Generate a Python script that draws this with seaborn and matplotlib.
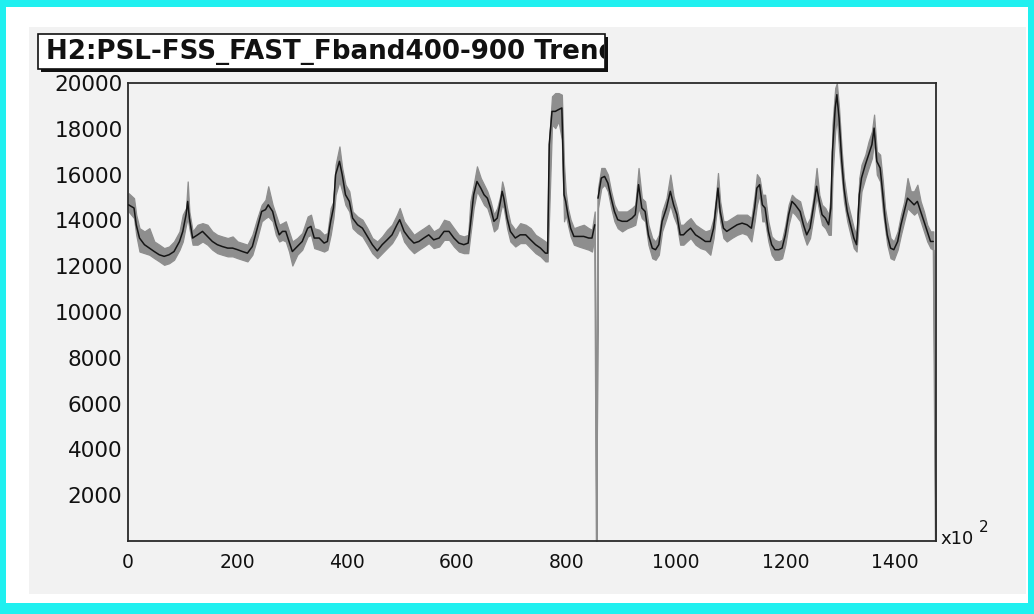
import numpy as np
import pandas as pd
import matplotlib
matplotlib.use("Agg")
import matplotlib.pyplot as plt
import seaborn as sns
from matplotlib.patches import Rectangle
from matplotlib.transforms import Bbox, TransformedBbox
from matplotlib.ticker import MultipleLocator, FixedLocator

# ---------------- data ----------------
TITLE = "H2:PSL-FSS_FAST_Fband400-900 Trend"
X_MULT = "x10"
X_MULT_EXP = "2"
x_ticks = [0, 200, 400, 600, 800, 1000, 1200, 1400]
y_ticks = [2000, 4000, 6000, 8000, 10000, 12000, 14000, 16000, 18000, 20000]

t = [1, 11, 15, 21, 30, 39, 48, 57, 66, 75, 84, 94, 100, 106, 109, 112, 118, 127, 136, 145,
     154, 163, 172, 182, 191, 200, 209, 218, 227, 236, 244,
     251, 256, 264, 270, 276, 282, 288, 294, 300, 309, 318, 328, 334, 340, 349, 358, 364, 370,
     375, 379, 386, 391, 397, 404, 410, 419, 428, 437, 446, 455, 464, 473, 482,
     491, 496, 504, 513, 522, 531, 540, 549, 558, 568, 577, 586, 595, 604, 613, 621, 625, 631,
     637, 644, 650, 656, 662, 668, 674, 680, 683, 686, 692, 698, 707, 716, 726, 735,
     744, 753, 762, 766, 769, 774, 780, 786, 792, 796, 799, 803, 808, 814, 823, 832, 841, 847,
     852, 855, 858, 864, 870, 876, 882, 888, 894, 902, 911, 920, 926, 932, 938, 944, 950, 957,
     963, 969, 975, 983,
     990, 996, 1002, 1008, 1014, 1020, 1027, 1036, 1045, 1054, 1063, 1069, 1073, 1077, 1081,
     1087, 1093, 1102, 1112, 1121, 1130, 1138, 1144, 1148, 1153, 1158, 1163, 1169, 1175, 1181,
     1188, 1194, 1200, 1206, 1212, 1218, 1227,
     1233, 1239, 1245, 1251, 1257, 1262, 1267, 1273, 1279, 1283, 1286, 1291, 1294, 1298, 1303,
     1307, 1313, 1319, 1325, 1330, 1335, 1339, 1346, 1352, 1358, 1362, 1367, 1373, 1378, 1382,
     1386, 1392, 1398, 1405, 1411, 1417, 1423, 1429, 1435, 1441, 1447, 1453, 1459, 1465, 1470, 1474]

mean_v = [14680, 14540, 13810, 13230, 12940, 12790, 12640, 12500, 12430, 12500, 12640, 13080, 13520, 14250, 14830, 14100, 13230, 13370, 13520, 13300,
          13080, 12940, 12860, 12790, 12790, 12720, 12640, 12570, 12860, 13660, 14390,
          14470, 14680, 14390, 13810, 13370, 13520, 13520, 13080, 12640, 12860, 13080, 13660, 13740, 13230, 13230, 13010, 13080, 13960,
          14540, 16000, 16580, 16000, 15120, 14830, 14100, 13810, 13660, 13300, 12940, 12670, 12940, 13150, 13370,
          13810, 14030, 13520, 13230, 13010, 13080, 13230, 13370, 13150, 13230, 13520, 13520, 13230, 13010, 12940, 13010, 13810, 15120,
          15700, 15410, 15120, 14970, 14540, 13960, 14100, 14830, 15270, 14970, 14100, 13520, 13230, 13370, 13370, 13150,
          12940, 12790, 12570, 12570, 17310, 18760, 18760, 18840, 18910, 15120, 14830, 14250, 13660, 13300, 13300, 13300, 13230, 13230,
          13810, 0, 14970, 15850, 15920, 15630, 14970, 14390, 14030, 13960, 13960, 14100, 14250, 15560, 14540, 14390, 13370, 12790,
          12720, 12940, 13960, 14540,
          15270, 14680, 14250, 13370, 13370, 13520, 13660, 13370, 13230, 13080, 13080, 13660, 14540, 15410, 14390,
          13660, 13520, 13660, 13810, 13880, 13810, 13660, 14540, 15410, 15560, 14680, 14540, 13520, 12940, 12720,
          12720, 12790, 13370, 14250, 14830, 14680, 14390,
          13810, 13370, 13660, 14540, 15490, 14830, 14250, 14100, 13810, 14540, 17010, 18910, 19490, 18470, 16580,
          15410, 14390, 13810, 13230, 12940, 15120, 15850, 16430, 16870, 17310, 18030, 16580, 16290, 15120, 14100,
          13370, 12790, 12720, 13080, 13810, 14390, 14970, 14830, 14680, 14830, 14390, 13960, 13520, 13080, 13080, 0]

hi_v = [15190, 14970, 14250, 13660, 13520, 13660, 13080, 12940, 12790, 12860, 13080, 13520, 14250, 14540, 15700, 14390, 13520, 13810, 13880, 13810,
        13520, 13370, 13300, 13230, 13300, 13080, 13010, 12940, 13370, 14100, 14680,
        14900, 15490, 14680, 14250, 13810, 13880, 13960, 13520, 13080, 13230, 13450, 14170, 14250, 13660, 13590, 13370, 13450, 14540,
        14830, 16430, 17230, 16290, 15560, 15270, 14390, 14170, 14030, 13660, 13230, 13080, 13300, 13590, 13810,
        14250, 14540, 13960, 13660, 13370, 13520, 13660, 13810, 13520, 13660, 14030, 13960, 13660, 13370, 13300, 13370, 14830, 15560,
        16360, 15850, 15560, 15270, 14830, 14250, 14540, 15120, 15700, 15410, 14540, 13880, 13590, 13880, 13810, 13660,
        13370, 13230, 13080, 13010, 17600, 19420, 19560, 19560, 19490, 16430, 15270, 14540, 14030, 13660, 13740, 13810, 13660, 13590,
        14390, 0, 15410, 16290, 16290, 16000, 15270, 14680, 14390, 14390, 14390, 14540, 14680, 16290, 14970, 14830, 13810, 13230,
        13080, 13370, 14390, 14970,
        16000, 15050, 14540, 13810, 13810, 13960, 14100, 13810, 13660, 13520, 13590, 14100, 14970, 16070, 14830,
        13960, 13960, 14100, 14250, 14250, 14250, 14100, 15120, 16020, 15850, 15120, 15120, 13960, 13300, 13150,
        13080, 13150, 13810, 14680, 15120, 14970, 14830,
        14250, 13810, 14100, 14970, 16290, 15120, 14680, 14540, 14250, 15120, 18180, 19780, 20000, 18910, 17010,
        15850, 14830, 14250, 13660, 13370, 15850, 16430, 16870, 17450, 17890, 18620, 17010, 16870, 15700, 14540,
        13960, 13230, 13080, 13520, 14250, 14830, 15850, 15270, 15270, 15560, 14830, 14390, 13810, 13520, 13520, 0]

lo_v = [14390, 14100, 13370, 12640, 12570, 12500, 12350, 12210, 12060, 12130, 12280, 12720, 13080, 13810, 14100, 13660, 12940, 12940, 13080, 12940,
        12720, 12570, 12500, 12430, 12430, 12350, 12280, 12210, 12500, 13230, 13960,
        14100, 14170, 13960, 13370, 13080, 13150, 13080, 12640, 12030, 12500, 12720, 13300, 13370, 12790, 12720, 12640, 12720, 13370,
        14100, 15120, 15700, 15270, 14680, 14390, 13660, 13450, 13300, 12940, 12570, 12350, 12570, 12790, 13010,
        13370, 13660, 13080, 12790, 12570, 12720, 12860, 13010, 12790, 12860, 13150, 13150, 12860, 12640, 12570, 12570, 13370, 14540,
        15270, 14970, 14680, 14540, 14100, 13520, 13660, 14390, 14680, 14540, 13660, 13080, 12860, 13010, 13010, 12790,
        12570, 12430, 12210, 12210, 14390, 18180, 18030, 18330, 17520, 13960, 14250, 13810, 13300, 12940, 12860, 12790, 12720, 12640,
        13370, 0, 14540, 15410, 15560, 15270, 14540, 13960, 13660, 13520, 13660, 13740, 13810, 14540, 14100, 13960, 12940, 12350,
        12280, 12500, 13520, 14100,
        14680, 14170, 13810, 12940, 12940, 13080, 13230, 12940, 12790, 12720, 12500, 13230, 14100, 14830, 13960,
        13230, 13080, 13230, 13370, 13450, 13370, 13080, 13960, 14680, 15120, 13960, 13960, 13080, 12500, 12280,
        12280, 12350, 12940, 13810, 14390, 14250, 13960,
        13370, 12940, 13230, 14100, 15050, 14390, 13810, 13660, 13370, 13370, 15850, 17890, 18470, 17160, 15850,
        14830, 13960, 13370, 12790, 12640, 14250, 15270, 15850, 16290, 16720, 17450, 16000, 15700, 14390, 13660,
        12940, 12350, 12280, 12720, 13370, 13960, 14540, 14390, 14250, 14390, 13960, 13520, 13080, 12790, 12720, 0]

# ---------------- styling ----------------
sns.set_style("white")
plt.rcParams["font.family"] = ["DejaVu Sans"]

W, H = 1034, 614
PAD_GREY = "#f2f2f2"
CYAN = "#1ff0f0"
BAND = "#8e8e8e"


def frect(x0, y0, x1, y1, **kw):
    """rectangle given in figure pixel coordinates measured from the top-left"""
    return Rectangle((x0 / W, 1 - y1 / H), (x1 - x0) / W, (y1 - y0) / H,
                     transform=fig.transFigure, **kw)


fig = plt.figure(figsize=(W / 100, H / 100), dpi=100, facecolor=CYAN)
fig.add_artist(frect(6, 7, 1028, 603, facecolor="white", edgecolor="none", zorder=-3))
fig.add_artist(frect(29, 27, 1026, 594, facecolor=PAD_GREY, edgecolor="none", zorder=-2))

ax = fig.add_axes([128 / W, 1 - 541 / H, (936 - 128) / W, (541 - 83) / H])
ax.set_facecolor(PAD_GREY)

df = pd.DataFrame({"t": t, "mean": mean_v, "lo": lo_v, "hi": hi_v})

# min/max band
ax.fill_between(df["t"], df["lo"], df["hi"], color=BAND, edgecolor=BAND, lw=0.9, zorder=2)
# thin grey connection including dropouts to zero
sns.lineplot(data=df, x="t", y="mean", estimator=None, sort=False, color=BAND,
             lw=0.9, ax=ax, zorder=2)
# black mean trace, drawn per continuous segment
seg_id = (df["mean"] == 0).cumsum()
valid = df[df["mean"] > 0].assign(seg=seg_id[df["mean"] > 0])
for _, part in valid.groupby("seg"):
    sns.lineplot(data=part, x="t", y="mean", estimator=None, sort=False,
                 color="#151515", lw=1.1, ax=ax, zorder=3)

ax.set_xlim(0, 1475)
ax.set_ylim(0, 20000)
ax.set_xlabel("")
ax.set_ylabel("")
ax.xaxis.set_major_locator(FixedLocator(x_ticks))
ax.set_xticklabels([str(v) for v in x_ticks])
ax.xaxis.set_minor_locator(MultipleLocator(50))
ax.yaxis.set_major_locator(FixedLocator(y_ticks))
ax.set_yticklabels([str(v) for v in y_ticks])
ax.yaxis.set_minor_locator(MultipleLocator(500))

ax.tick_params(axis="both", which="both", direction="in", colors="#1a1a1a",
               top=False, right=False)
ax.tick_params(axis="x", which="major", length=5, width=1.0, pad=9, labelsize=13.5)
ax.tick_params(axis="x", which="minor", length=3, width=1.0)
ax.tick_params(axis="y", which="major", length=9.5, width=1.0, pad=4, labelsize=15.5)
ax.tick_params(axis="y", which="minor", length=5.5, width=1.0)
for lab in ax.get_xticklabels() + ax.get_yticklabels():
    lab.set_color("#111111")
for s in ax.spines.values():
    s.set_visible(True)
    s.set_color("#2a2a2a")
    s.set_linewidth(1.3)

# exponent label of the x axis
fig.text(940 / W, 1 - 544 / H, X_MULT, fontsize=13, color="#111111", ha="left", va="baseline")
fig.text(979 / W, 1 - 532 / H, X_MULT_EXP, fontsize=11, color="#111111", ha="left", va="baseline")

# title box with shadow
fig.add_artist(frect(41, 37, 608, 72, facecolor="#111111", edgecolor="none", zorder=4))
fig.add_artist(frect(38, 34, 605, 69, facecolor="white", edgecolor="#111111", lw=1.2, zorder=5))
ttl = fig.text(46 / W, 1 - 52 / H, TITLE, fontsize=18.8, fontweight="bold", color="#111111",
               ha="left", va="center", zorder=6)
ttl.set_clip_on(True)
ttl.set_clip_box(TransformedBbox(Bbox.from_extents(38 / W, 1 - 69 / H, 604 / W, 1 - 34 / H),
                                 fig.transFigure))

fig.savefig("out.png", dpi=100, facecolor=fig.get_facecolor())
